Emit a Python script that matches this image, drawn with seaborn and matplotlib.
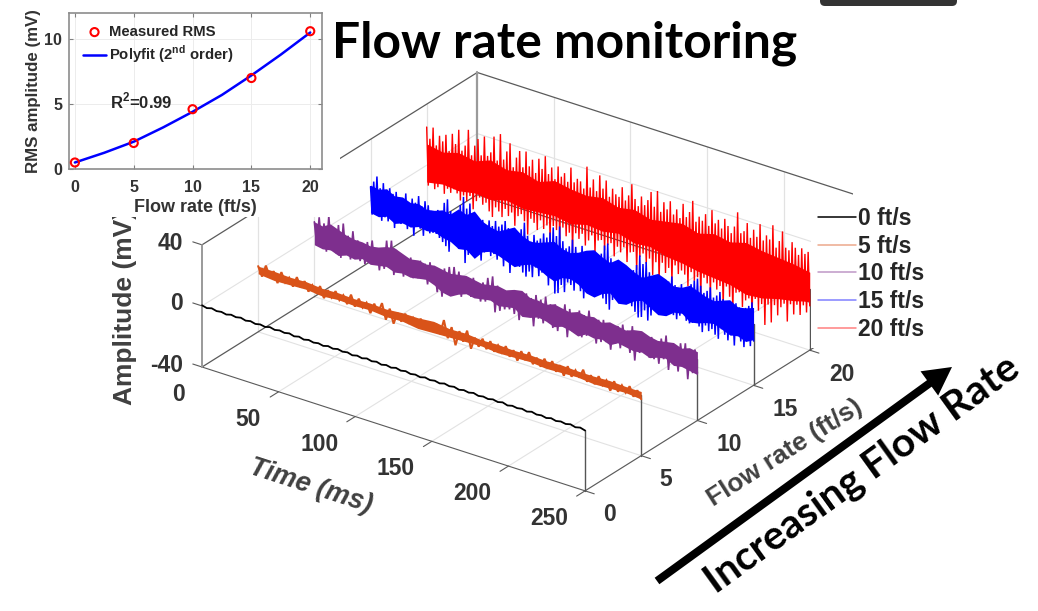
import numpy as np
import pandas as pd
import matplotlib
matplotlib.use("Agg")
import matplotlib.pyplot as plt
from matplotlib.lines import Line2D
from matplotlib.patches import Rectangle, FancyArrow, FancyBboxPatch
from mpl_toolkits.mplot3d import proj3d
import seaborn as sns

# ---------- data ----------
flow_rates = [0, 5, 10, 15, 20]
measured_rms = [0.5, 2.0, 4.6, 7.0, 10.6]
fit_flow = [0, 2.5, 5, 7.5, 10, 12.5, 15, 17.5, 20]
fit_rms = [0.5, 1.25, 2.1, 3.2, 4.4, 5.7, 7.2, 8.8, 10.5]
time_ticks = [0, 50, 100, 150, 200, 250]
flow_ticks = [0, 5, 10, 15, 20]
amp_ticks = [-40, 0, 40]
legend_labels = ["0 ft/s", "5 ft/s", "10 ft/s", "15 ft/s", "20 ft/s"]
trace_colors = ["#000000", "#D95319", "#7E2F8E", "#0000FF", "#FF0000"]

trace_0 = [.4, -.4, .5, -.3, .2, -.5, .4, -.2, .5, -.4, .3, -.5, .2, -.4, .5, -.3, .4, -.2, .5, -.4,
           .4, -.5, .3, -.4, .2, -.5, .4, -.3, .5, -.2, .4, -.5, .3, -.4, .5, -.3, .4, -.5, .3, -.4,
           .5, -.3, .4, -.4, .2, -.5, .4, -.3, .3, -.4, .5, -.2, .4, -.5, .3, -.3, .5, -.4, .2, -.4,
           .4, -.3, .5, -.5, .3, -.2, .4, -.4, .5, -.3, .2, -.5, .4, -.4, .3, -.3, .5, -.4, .4, -.5]
trace_5 = [3, -3, 5, -2, 3, -4, 4, -2, 2, -3, 4, -2, 3, -3, 2, -2, 3, -4, 2, -2,
           3, -2, 2, -3, 4, -3, 3, -2, 2, -4, 3, -2, 5, -5, 3, -6, 2, -3, 3, -2,
           2, -3, 3, -2, 2, -2, 3, -3, 7, -4, 4, -7, 3, -3, 5, -6, 2, -3, 3, -3,
           3, -3, 2, -2, 3, -3, 2, -4, 3, -2, 4, -3, 2, -3, 3, -2, 3, -3, 2, -4,
           3, -3, 2, -2, 4, -3, 2, -3, 3, -2, 2, -4, 3, -3, 2, -2, 3, -3, 2, -3]
trace_10 = [9, -6, 13, -5, 10, -8, 16, -6, 8, -7, 12, -9, 14, -5, 7, -8, 11, -6, 6, -7,
            5, -8, 7, -5, 9, -6, 5, -9, 6, -7, 12, -5, 13, -9, 8, -6, 6, -8, 5, -6,
            6, -7, 4, -6, 6, -5, 5, -8, 7, -5, 4, -11, 3, -13, 6, -9, 8, -7, 9, -6,
            7, -9, 5, -6, 4, -7, 6, -6, 3, -8, 5, -7, 9, -5, 11, -12, 6, -10, 4, -8,
            4, -7, 5, -9, 6, -12, 4, -8, 7, -6, 5, -13, 8, -7, 6, -9, 9, -6, 5, -10,
            6, -11, 4, -7, 8, -13, 6, -8, 4, -6, 7, -10, 5, -8, 9, -7, 3, -11, 5, -9,
            6, -8, 4, -12, 3, -7, 5, -9, 7, -6, 4, -10, 8, -14, 5, -8, 4, -7, 3, -9,
            5, -9, 3, -11, 6, -7, 9, -13, 5, -8, 4, -12, 7, -7, 8, -15, 5, -10, 6, -9]
trace_15 = [9, -9, 13, -6, 17, -7, 10, -11, 14, -8, 8, -10, 12, -6, 9, -13, 11, -7, 8, -9,
            7, -8, 12, -11, 6, -9, 10, -14, 8, -7, 13, -8, 7, -12, 11, -6, 9, -9, 6, -8,
            6, -8, 8, -10, 7, -12, 14, -14, 17, -17, 10, -8, 7, -11, 6, -13, 16, -12, 22, -21,
            15, -15, 19, -12, 13, -9, 10, -13, 8, -16, 11, -10, 7, -8, 12, -11, 9, -9, 13, -12,
            10, -7, 12, -15, 15, -9, 11, -18, 9, -12, 12, -8, 8, -12, 13, -15, 18, -17, 10, -13,
            7, -16, 12, -9, 9, -14, 11, -11, 15, -10, 13, -18, 17, -12, 21, -22, 16, -21, 23, -15,
            14, -19, 10, -12, 12, -13, 17, -16, 13, -10, 9, -15, 15, -19, 11, -12, 8, -9, 12, -13,
            7, -11, 10, -8, 14, -15, 20, -18, 22, -21, 13, -14, 9, -11, 12, -9, 8, -13, 11, -10,
            9, -12, 6, -14, 10, -17, 14, -20, 21, -19, 16, -14, 18, -20, 12, -16, 9, -11, 7, -9,
            8, -10, 11, -8, 7, -12, 10, -9, 14, -11, 9, -13, 6, -10, 11, -8, 8, -12, 7, -13,
            13, -12, 16, -10, 18, -13, 14, -16, 10, -11, 12, -14, 15, -12, 9, -15, 11, -17, 14, -10,
            10, -13, 7, -16, 9, -12, 6, -18, 10, -11, 8, -14, 5, -17, 9, -12, 11, -15, 14, -11]
trace_20 = [25, -13, 18, -10, 26, -14, 15, -12, 22, -9, 19, -15, 24, -11, 14, -13, 26, -10, 20, -12,
            30, -16, 17, -12, 21, -15, 32, -11, 16, -19, 23, -13, 28, -10, 18, -14, 31, -12, 19, -17,
            22, -20, 33, -13, 18, -15, 36, -18, 20, -12, 26, -16, 32, -13, 17, -21, 24, -14, 29, -12,
            19, -16, 30, -24, 21, -13, 26, -15, 18, -19, 28, -12, 22, -17, 31, -14, 20, -22, 25, -13,
            18, -15, 27, -20, 21, -12, 24, -17, 19, -14, 29, -25, 20, -13, 23, -16, 22, -12, 18, -19,
            33, -15, 20, -11, 26, -22, 19, -13, 30, -12, 22, -18, 28, -14, 18, -12, 24, -20, 21, -13,
            20, -16, 27, -12, 19, -21, 23, -14, 31, -13, 22, -24, 18, -15, 25, -12, 20, -18, 24, -14,
            30, -24, 21, -15, 32, -27, 19, -14, 26, -20, 22, -16, 28, -25, 20, -13, 24, -18, 19, -15,
            29, -17, 21, -24, 25, -14, 33, -19, 20, -16, 24, -28, 22, -15, 27, -18, 20, -26, 31, -16,
            23, -20, 26, -17, 21, -30, 28, -16, 24, -22, 20, -31, 25, -18, 35, -17, 22, -26, 24, -21,
            30, -19, 21, -33, 27, -18, 23, -25, 32, -20, 22, -33, 26, -19, 24, -30, 34, -18, 20, -24,
            25, -18, 32, -15, 22, -26, 21, -14, 27, -20, 24, -13, 20, -19, 25, -12, 22, -16, 24, -11]
traces = [trace_0, trace_5, trace_10, trace_15, trace_20]

# solid core of each noisy band (upper and lower edge, mV)
core_hi_5 = [3, 3, 2.5, 3, 2, 2.5, 2, 2.5, 2, 3, 3, 4, 2.5, 3, 2, 2.5, 2, 2.5, 2, 2.5, 2, 2, 2.5, 2, 2]
core_lo_5 = [-2, -3, -2.5, -2, -3, -2, -2.5, -2, -3, -2.5, -4, -3.5, -3, -2.5, -2, -3, -2.5, -2, -3, -2.5, -2, -3, -2.5, -2, -3]
core_hi_10 = [9, 8, 11, 9, 7, 6, 6, 5, 6, 8, 9, 7, 5, 6, 5, 6, 5, 4, 5, 6, 5, 4, 5, 6, 5,
              7, 8, 5, 5, 4, 6, 5, 4, 6, 5, 6, 4, 6, 5, 4, 6, 7, 5, 4, 5, 6, 4, 6, 5]
core_lo_10 = [-6, -7, -6, -8, -6, -7, -5, -7, -6, -5, -7, -6, -7, -6, -5, -7, -10, -11, -8, -6, -7, -6, -5, -7, -6,
              -5, -9, -8, -6, -7, -9, -7, -8, -10, -7, -8, -7, -9, -6, -7, -8, -7, -9, -7, -6, -9, -8, -9, -10]
core_hi_15 = [10, 9, 11, 8, 9, 7, 8, 6, 7, 9, 8, 13, 11, 15, 10, 8, 7, 10, 13, 9, 7, 8, 10, 12, 9,
              8, 10, 13, 15, 12, 10, 14, 12, 9, 7, 10, 13, 11, 8, 9, 12, 10, 8, 7, 9, 11, 8, 9, 11]
core_lo_15 = [-8, -9, -7, -10, -8, -9, -7, -8, -7, -9, -10, -13, -12, -16, -10, -8, -9, -11, -13, -10, -8, -9, -12, -14, -10,
              -9, -11, -15, -16, -12, -10, -15, -14, -10, -8, -11, -14, -13, -9, -8, -12, -11, -9, -8, -10, -12, -11, -13, -10]
core_hi_20 = [14, 12, 15, 13, 17, 14, 16, 13, 17, 15, 14, 16, 13, 15, 12, 14, 16, 13, 16, 14, 17, 15, 14, 13, 11]
core_lo_20 = [-11, -9, -10, -8, -9, -6, -8, -7, -6, -8, -5, -6, -4, -7, -6, -9, -10, -12, -13, -14, -17, -16, -13, -11, -8]
cores = {1: (core_hi_5, core_lo_5), 2: (core_hi_10, core_lo_10),
         3: (core_hi_15, core_lo_15), 4: (core_hi_20, core_lo_20)}

TMAX, FMAX, ZMIN, ZMAX = 250, 24.5, -40, 40

# ---------- theme ----------
sns.set_theme(style="white")
plt.rcParams["font.family"] = ["Liberation Sans", "DejaVu Sans"]
plt.rcParams["mathtext.fontset"] = "custom"
plt.rcParams["mathtext.bf"] = "Liberation Sans:bold"
plt.rcParams["mathtext.rm"] = "Liberation Sans"

W, H = 1038, 611
fig = plt.figure(figsize=(W / 100, H / 100), dpi=100, facecolor="white")

# ---------- 3-D waterfall ----------
s0 = 650
ax = fig.add_axes([0.1, 0.0, s0 / W, s0 / H], projection="3d", proj_type="ortho",
                  computed_zorder=False)
ax.set_zorder(1)
ax.view_init(elev=26.74, azim=-54.3)
ax.set_box_aspect((1, 1, 0.29))
ax.set_xlim(0, TMAX)
ax.set_ylim(0, FMAX)
ax.set_zlim(ZMIN, ZMAX)
ax.set_axis_off()


def px(t, f, z):
    X, Y, _ = proj3d.proj_transform(t, f, z, ax.get_proj())
    return ax.transData.transform((X, Y))


# place the box so that its floor edge lands where it does in the chart
fig.canvas.draw()
A, B = px(0, 0, ZMIN), px(TMAX, 0, ZMIN)
s1 = s0 * np.hypot(383.0, 124.0) / np.hypot(*(B - A))
ax.set_position([0.1, 0.0, s1 / W, s1 / H])
fig.canvas.draw()
A = px(0, 0, ZMIN)
dx, dy = 202 - A[0], (H - 367) - A[1]
ax.set_position([0.1 + dx / W, dy / H, s1 / W, s1 / H])
fig.canvas.draw()

GRID = "#e2e2e2"
EDGE = "#5a5a5a"
POST = "#9a9a9a"
for t in time_ticks[1:]:
    ax.plot([t, t], [0, FMAX], [ZMIN, ZMIN], color=GRID, lw=0.8)
    ax.plot([t, t], [FMAX, FMAX], [ZMIN, ZMAX], color=GRID, lw=0.9)
    ax.plot([t, t], [0, -0.75], [ZMIN, ZMIN], color=EDGE, lw=0.8)
for f in flow_ticks[1:]:
    ax.plot([0, TMAX], [f, f], [ZMIN, ZMIN], color=GRID, lw=0.8)
    ax.plot([0, 0], [f, f], [ZMIN, ZMAX], color=GRID, lw=0.9)
ax.plot([0, TMAX], [FMAX, FMAX], [0, 0], color=GRID, lw=0.8)
ax.plot([0, 0], [0, FMAX], [0, 0], color=GRID, lw=0.8)
for f in flow_ticks:
    ax.plot([TMAX, TMAX + 6], [f, f], [ZMIN, ZMIN], color=EDGE, lw=0.8)
for z in amp_ticks:
    ax.plot([0, -6], [0, 0], [z, z], color=EDGE, lw=0.8)

ax.plot([0, TMAX], [0, 0], [ZMIN, ZMIN], color=EDGE, lw=0.8)
ax.plot([0, 0], [0, FMAX], [ZMIN, ZMIN], color=EDGE, lw=0.9)
ax.plot([TMAX, TMAX], [0, FMAX], [ZMIN, ZMIN], color=EDGE, lw=0.8)
ax.plot([0, TMAX], [FMAX, FMAX], [ZMIN, ZMIN], color=EDGE, lw=0.9)
ax.plot([0, 0], [0, FMAX], [ZMAX, ZMAX], color=EDGE, lw=0.9)
ax.plot([0, TMAX], [FMAX, FMAX], [ZMAX, ZMAX], color=EDGE, lw=0.9)
ax.plot([TMAX, TMAX], [FMAX, FMAX], [ZMIN, ZMAX], color=POST, lw=1.0)
ax.plot([0, 0], [0, 0], [ZMIN, ZMAX], color=POST, lw=1.4)
ax.plot([0, 0], [FMAX, FMAX], [ZMIN, ZMAX], color=POST, lw=1.6)

for f in flow_ticks:
    ax.plot([TMAX, TMAX], [f, f], [ZMIN, 0], color="#555555", lw=1.0)

widths = [1.3, 1.5, 1.2, 1.1, 1.0]
for rank, i in enumerate([4, 3, 2, 1, 0]):
    vals = traces[i]
    tt = np.linspace(0, TMAX, len(vals))
    z_order = 5 + rank
    ax.plot(tt, np.full(len(vals), flow_rates[i]), vals,
            color=trace_colors[i], lw=widths[i], solid_joinstyle="miter", zorder=z_order)
    if i in cores:
        hi, lo = cores[i]
        tc = np.linspace(0, TMAX, len(hi))
        fc = np.full(len(hi), flow_rates[i])
        ax.fill_between(tc, fc, np.array(hi, float), tc, fc, np.array(lo, float),
                        mode="polygon", facecolors=trace_colors[i], shade=False, linewidth=0,
                        zorder=z_order)

# ---------- 2-D overlay in image pixels ----------
ov = fig.add_axes([0, 0, 1, 1])
ov.set_zorder(2)
ov.set_xlim(0, W)
ov.set_ylim(H, 0)
ov.axis("off")
ov.patch.set_visible(False)


def opx(t, f, z):
    p = px(t, f, z)
    return p[0], H - p[1]


# white backing of the pasted inset
ov.add_patch(Rectangle((0, 0), 340, 217, fc="white", ec="none", zorder=1.5))
ov.add_patch(FancyBboxPatch((820, -10), 137, 16, boxstyle="round,pad=0,rounding_size=5",
                            fc="#333333", ec="none", zorder=1.5))

TXT = "#333333"
tick_kw = dict(ha="center", va="center", fontsize=16.5, fontweight="bold", color=TXT, zorder=3)
for t in time_ticks:
    x, y = opx(t, 0, ZMIN)
    shift = {0: 23, 50: 31}.get(t, 36)
    ov.text(x - shift, y + 27.5, str(t), **tick_kw)
for f in flow_ticks:
    x, y = opx(TMAX, f, ZMIN)
    ov.text(x + (24 if f < 10 else 32), y + 24, str(f), **tick_kw)
for z, yy in zip(amp_ticks, [366, 304, 243]):
    ov.text(183, yy, str(z), ha="right", va="center", fontsize=16.5, fontweight="bold",
            color=TXT, zorder=3)

ov.text(125, 307, "Amplitude (mV)", rotation=90, ha="center", va="center", fontsize=19,
        fontweight="bold", color="#404040", zorder=1)
ov.text(311, 486, "Time (ms)", rotation=-18, ha="center", va="center", rotation_mode="anchor",
        fontsize=19.5, fontweight="bold", style="italic", color="#404040", zorder=3)
ov.text(785, 453, "Flow rate (ft/s)", rotation=32.5, ha="center", va="center",
        rotation_mode="anchor", fontsize=18.8, fontweight="bold", color="#404040", zorder=3)

heading = ["Lato", "Open Sans", "DejaVu Sans"]
ov.text(565, 43, "Flow rate monitoring", ha="center", va="center", fontsize=35.8,
        fontweight="bold", family=heading, color="black", zorder=3)
ov.text(862, 474, "Increasing Flow Rate", rotation=35.8, ha="center", va="center",
        rotation_mode="anchor", fontsize=29.3, fontweight="bold", family=heading,
        color="black", zorder=3)
ov.add_patch(FancyArrow(657, 581, 952 - 657, 367 - 581, width=8, head_width=30, head_length=28,
                        length_includes_head=True, fc="black", ec="none", zorder=3))

handles = [Line2D([], [], color=c, lw=1.1, alpha=1.0 if c == "#000000" else 0.5)
           for c in trace_colors]
leg = ov.legend(handles, legend_labels, loc="upper left", bbox_to_anchor=(811, 200),
                bbox_transform=ov.transData, frameon=True, facecolor="white", edgecolor="none",
                framealpha=1, fancybox=False, prop=dict(size=16.5, weight="bold"),
                labelcolor="#262626", handlelength=1.65, handletextpad=0.12,
                labelspacing=0.205, borderpad=0.3, borderaxespad=0)

# ---------- inset: RMS amplitude vs flow rate ----------
ins = fig.add_axes([69 / W, 1 - 169 / H, (322 - 69) / W, (169 - 13) / H])
ins.set_zorder(3)
df_meas = pd.DataFrame({"flow": flow_rates, "rms": measured_rms})
df_fit = pd.DataFrame({"flow": fit_flow, "rms": fit_rms})
sns.lineplot(data=df_fit, x="flow", y="rms", ax=ins, color="#0000FF", lw=1.8,
             label="Polyfit (2$^{\\mathbf{nd}}$ order)", zorder=2)
sns.scatterplot(data=df_meas, x="flow", y="rms", ax=ins, color="red", s=34, linewidth=1.5,
                label="Measured RMS", zorder=3)
pts = ins.collections[-1]
pts.set_facecolor("none")
pts.set_edgecolor("red")
ins.set_xlim(-0.5, 21)
ins.set_ylim(0, 12)
ins.set_xticks([0, 5, 10, 15, 20])
ins.set_yticks([0, 5, 10])
ins.grid(True, color="#ececec", lw=0.7)
ins.set_axisbelow(True)
ins.tick_params(direction="in", length=3, width=0.8, color="#808080", top=True, right=True,
                bottom=True, left=True, labelsize=11.5, labelcolor=TXT, pad=5)
ins.tick_params(axis="x", pad=8)
for lab in ins.get_xticklabels() + ins.get_yticklabels():
    lab.set_fontweight("bold")
for sp in ins.spines.values():
    sp.set_color("#8c8c8c")
    sp.set_linewidth(1.2)
ins.set_xlabel("Flow rate (ft/s)", fontsize=13, fontweight="bold", color=TXT, labelpad=3)
ins.set_ylabel("RMS amplitude (mV)", fontsize=12.2, fontweight="bold", color=TXT, labelpad=2)
h, l = ins.get_legend_handles_labels()
order = [l.index("Measured RMS"), 1 - l.index("Measured RMS")]
ins.legend([h[i] for i in order], [l[i] for i in order], loc="upper left",
           bbox_to_anchor=(14 / 253, 1 - 12 / 156), frameon=False,
           prop=dict(size=10.7, weight="bold"), labelcolor="#262626", handlelength=1.55,
           handletextpad=0.2, labelspacing=0.3, borderaxespad=0, borderpad=0)
ins.text(2.98, 5.25, "R$^{\\mathbf{2}}$=0.99", fontsize=12, fontweight="bold", color="#262626",
         va="center")

fig.savefig("out.png", dpi=100)
